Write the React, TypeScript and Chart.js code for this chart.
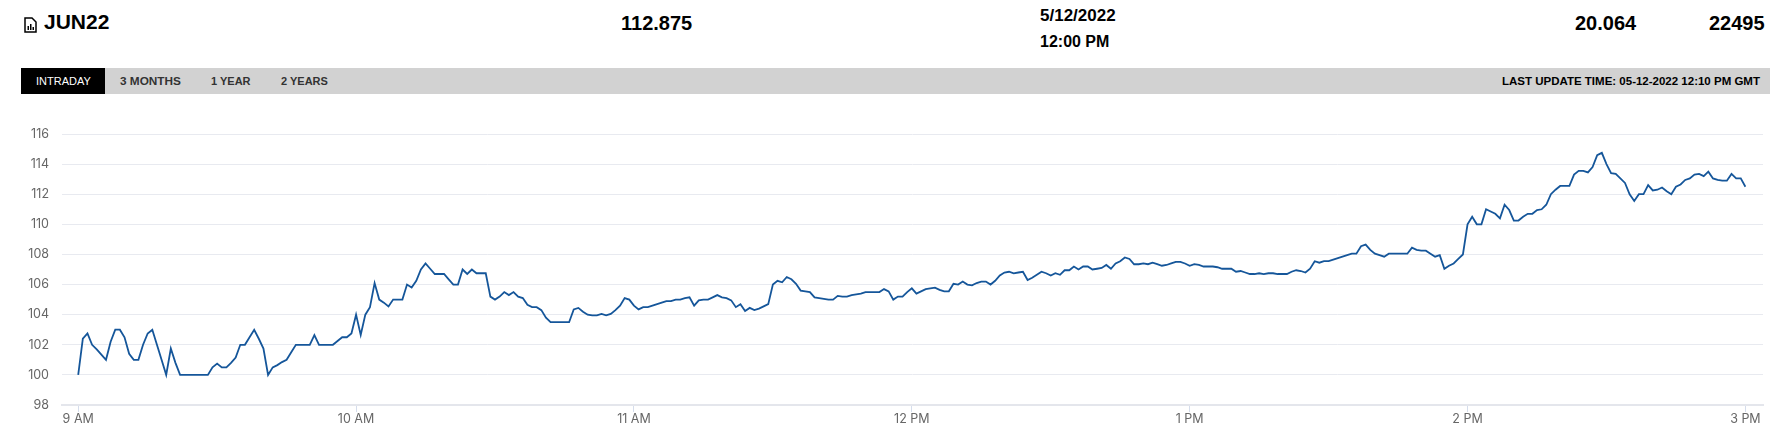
import React, { useEffect, useRef } from "react";
import { Chart, registerables } from "chart.js";

Chart.register(...registerables);

const hourLabels = ["9 AM", "10 AM", "11 AM", "12 PM", "1 PM", "2 PM", "3 PM"];
const minutesPerHour = 60;

const hour9 = [100, 102.4, 102.75, 102, 101.7, 101.35, 101, 102.2, 103, 103, 102.5, 101.4, 101, 101, 102, 102.75, 103, 102, 101, 100, 101.75, 100.8, 100, 100, 100, 100, 100, 100, 100, 100.5, 100.75, 100.5, 100.5, 100.8, 101.15, 102, 102, 102.5, 103, 102.4, 101.75, 100, 100.5, 100.65, 100.85, 101, 101.5, 102, 102, 102, 102, 102.65, 102, 102, 102, 102, 102.25, 102.5, 102.5, 102.75];
const hour10 = [104, 102.65, 104, 104.5, 106.1, 105, 104.8, 104.55, 105, 105, 105, 106, 105.8, 106.25, 107, 107.4, 107.05, 106.7, 106.7, 106.7, 106.35, 106, 106, 107, 106.7, 107, 106.75, 106.75, 106.75, 105.2, 105, 105.2, 105.5, 105.3, 105.5, 105.2, 105.1, 104.65, 104.5, 104.5, 104.3, 103.8, 103.5, 103.5, 103.5, 103.5, 103.5, 104.35, 104.45, 104.2, 104, 103.95, 103.95, 104.05, 103.95, 104.05, 104.3, 104.6, 105.1, 105];
const hour11 = [104.6, 104.35, 104.5, 104.5, 104.6, 104.7, 104.8, 104.9, 104.9, 105, 105, 105.1, 105.15, 104.6, 104.95, 105, 105, 105.15, 105.3, 105.15, 105.1, 104.95, 104.5, 104.7, 104.25, 104.45, 104.3, 104.4, 104.55, 104.7, 106, 106.25, 106.15, 106.5, 106.35, 106.05, 105.6, 105.55, 105.5, 105.15, 105.1, 105.05, 105, 105, 105.25, 105.2, 105.2, 105.3, 105.35, 105.4, 105.5, 105.5, 105.5, 105.5, 105.7, 105.55, 105, 105.2, 105.2, 105.5];
const hour12 = [105.75, 105.4, 105.55, 105.7, 105.75, 105.8, 105.65, 105.55, 105.55, 106.05, 106, 106.2, 106, 105.95, 106.1, 106.2, 106.2, 106, 106.25, 106.6, 106.8, 106.85, 106.75, 106.8, 106.85, 106.3, 106.45, 106.65, 106.85, 106.75, 106.6, 106.75, 106.65, 106.95, 106.95, 107.2, 107, 107.2, 107.2, 107, 107.05, 107.1, 107.3, 107.05, 107.4, 107.55, 107.8, 107.7, 107.35, 107.35, 107.4, 107.35, 107.45, 107.35, 107.25, 107.3, 107.4, 107.5, 107.5, 107.4];
const hour13 = [107.25, 107.35, 107.3, 107.2, 107.2, 107.2, 107.15, 107.05, 107.05, 107.05, 106.85, 106.9, 106.8, 106.7, 106.7, 106.75, 106.7, 106.75, 106.75, 106.7, 106.7, 106.7, 106.85, 106.95, 106.9, 106.8, 107.05, 107.55, 107.45, 107.55, 107.55, 107.65, 107.75, 107.85, 107.95, 108.05, 108.05, 108.55, 108.65, 108.3, 108.05, 107.95, 107.85, 108.05, 108.05, 108.05, 108.05, 108.05, 108.45, 108.3, 108.25, 108.25, 108.05, 107.85, 107.95, 107.05, 107.25, 107.4, 107.7, 108];
const hour14 = [110, 110.5, 110, 110, 111, 110.85, 110.7, 110.4, 111.3, 110.95, 110.25, 110.25, 110.5, 110.7, 110.7, 110.95, 111, 111.3, 112, 112.3, 112.55, 112.55, 112.55, 113.3, 113.55, 113.55, 113.45, 113.8, 114.6, 114.75, 114, 113.4, 113.35, 113.05, 112.75, 112, 111.55, 112, 112, 112.6, 112.25, 112.3, 112.45, 112.2, 112, 112.5, 112.65, 112.95, 113.05, 113.3, 113.35, 113.2, 113.5, 113.05, 112.95, 112.9, 112.9, 113.35, 113.05, 113.05];
const hour15 = [112.5];

const priceSeries = [...hour9, ...hour10, ...hour11, ...hour12, ...hour13, ...hour14, ...hour15];

const sans = '"Liberation Sans", Arial, sans-serif';
const abs = (left: number, top: number, extra: React.CSSProperties = {}): React.CSSProperties => ({
  position: "absolute", left, top, whiteSpace: "nowrap", fontFamily: sans, fontWeight: 700, color: "#000", ...extra,
});

export default function App() {
  const ref = useRef<HTMLCanvasElement>(null);
  useEffect(() => {
    const chart = new Chart(ref.current!, {
      type: "line",
      data: {
        datasets: [{
          data: priceSeries.map((y, x) => ({ x, y })),
          borderColor: "#15569a",
          borderWidth: 1.8,
          pointRadius: 0,
          tension: 0,
        }],
      },
      options: {
        animation: false,
        responsive: false,
        maintainAspectRatio: false,
        layout: { padding: { top: 134, right: 26, bottom: 0, left: 0 } },
        plugins: { legend: { display: false }, tooltip: { enabled: false } },
        scales: {
          x: {
            type: "linear",
            min: -3.5,
            max: 363.8,
            afterBuildTicks: (s: any) => {
              s.ticks = hourLabels.map((_, i) => ({ value: i * minutesPerHour }));
            },
            afterFit: (s: any) => { s.height = 40; },
            grid: { drawOnChartArea: false, drawTicks: true, tickLength: 7, tickColor: "#d5ddec" },
            border: { color: "#e4e6ec", width: 2 },
            ticks: {
              maxRotation: 0,
              autoSkip: false,
              padding: 0,
              color: "#666",
              font: { family: "Inter", size: 12.5 },
              callback: (v: any) => hourLabels[Number(v) / minutesPerHour],
            },
          },
          y: {
            min: 98,
            max: 116,
            afterFit: (s: any) => { s.width = 62; },
            grid: { color: "#e8eaf0", lineWidth: 1, drawTicks: false },
            border: { display: false },
            ticks: {
              stepSize: 2,
              padding: 13,
              color: "#666",
              font: { family: "Inter", size: 12.5 },
            },
          },
        },
      },
    });
    return () => chart.destroy();
  }, []);

  return (
    <div style={{ position: "absolute", left: 0, top: 0, width: 1789, height: 445, background: "#fff", overflow: "hidden" }}>
      <svg style={{ position: "absolute", left: 24, top: 17 }} width="13" height="16" viewBox="0 0 13 16">
        <path d="M1 1h7l4 4v10H1z" fill="none" stroke="#000" strokeWidth="1.5" />
        <path d="M3.5 13V9h1.5v4zM6 13V7h1.5v6zM8.5 13v-3H10v3z" fill="#000" />
      </svg>
      <div style={abs(44, 10, { fontSize: 21, lineHeight: "24px" })}>JUN22</div>
      <div style={abs(621, 11, { fontSize: 20, lineHeight: "24px" })}>112.875</div>
      <div style={abs(1040, 6, { fontSize: 17, lineHeight: "20px" })}>5/12/2022</div>
      <div style={abs(1040, 32, { fontSize: 16, lineHeight: "20px" })}>12:00 PM</div>
      <div style={abs(1575, 11, { fontSize: 20, lineHeight: "24px" })}>20.064</div>
      <div style={abs(1709, 11, { fontSize: 20, lineHeight: "24px" })}>22495</div>

      <div style={{ position: "absolute", left: 21, top: 68, width: 1749, height: 26, background: "#d2d2d2" }} />
      <div style={{ position: "absolute", left: 21, top: 68, width: 84, height: 26, background: "#000" }} />
      <div style={abs(36, 68, { fontSize: 11, lineHeight: "26px", color: "#fff", fontWeight: 400 })}>INTRADAY</div>
      <div style={abs(120, 68, { fontSize: 11.8, lineHeight: "26px", color: "#333" })}>3 MONTHS</div>
      <div style={abs(211, 68, { fontSize: 11, lineHeight: "26px", color: "#333" })}>1 YEAR</div>
      <div style={abs(281, 68, { fontSize: 11, lineHeight: "26px", color: "#333" })}>2 YEARS</div>
      <div style={abs(1502, 68, { fontSize: 11.5, lineHeight: "26px", width: 257, textAlign: "right" })}>LAST UPDATE TIME: 05-12-2022 12:10 PM GMT</div>

      <canvas ref={ref} width={1789} height={445} style={{ position: "absolute", left: 0, top: 0, display: "block" }} />
    </div>
  );
}
